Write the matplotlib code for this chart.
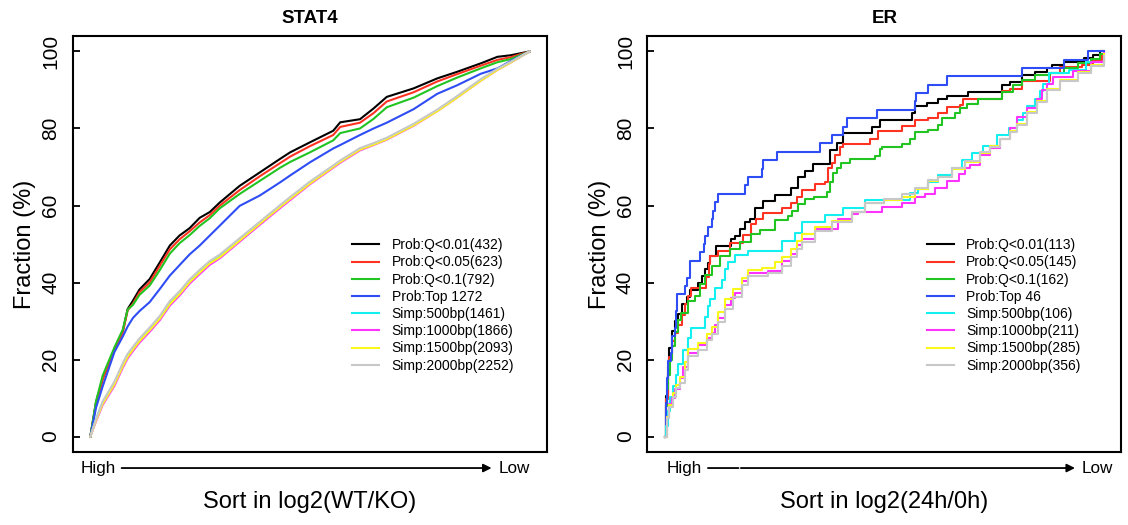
import numpy as np
import matplotlib
matplotlib.use("Agg")
import matplotlib.pyplot as plt

plt.rcParams['font.family'] = ['Liberation Sans', 'DejaVu Sans']

# ---- STAT4: cumulative fraction (%) along sorted rank (0 = high, 1 = low)
stat4_rank = [0, .013, .028, .055, .074, .085, .097, .112, .135, .158, .181, .203, .226, .249,
              .272, .295, .340, .386, .432, .455, .500, .553, .569, .614, .645, .675, .736, .790,
              .835, .889, .927, .957, 1.0]
stat4_q001 = [0, 8.9, 15.0, 22.8, 27.5, 33.1, 35.3, 38.2, 40.9, 45.2, 49.6, 52.2, 54.1, 56.8,
              58.3, 60.8, 65.1, 68.6, 72.1, 73.8, 76.4, 79.4, 81.6, 82.4, 85.2, 88.2, 90.4, 93.0,
              94.7, 96.9, 98.6, 99.0, 100]
stat4_q005 = [0, 8.5, 14.8, 22.5, 27.0, 32.8, 34.5, 37.5, 40.0, 44.3, 48.6, 51.2, 53.3, 55.6,
              57.5, 60.0, 64.0, 67.6, 71.0, 72.7, 75.4, 78.3, 80.4, 81.5, 84.0, 87.0, 89.4, 92.2,
              94.1, 96.3, 97.8, 98.5, 100]
stat4_q01 = [0, 9.2, 15.8, 23.2, 27.8, 33.0, 34.2, 36.8, 39.2, 43.2, 47.5, 50.2, 52.3, 54.7,
             56.7, 59.3, 63.0, 66.4, 69.8, 71.3, 73.8, 76.9, 78.8, 80.0, 82.5, 85.5, 88.0, 91.0,
             93.2, 95.6, 97.2, 98.0, 100]
stat4_top = [0, 7.5, 13.0, 22.0, 26.0, 28.6, 30.8, 32.6, 34.9, 38.3, 41.8, 44.5, 47.3, 49.6,
             52.2, 54.8, 59.9, 62.6, 66.0, 67.8, 71.2, 74.8, 75.7, 78.3, 80.0, 81.5, 85.0, 89.0,
             91.2, 94.2, 95.6, 97.5, 100]
stat4_s500 = [0, 4.5, 8.9, 14.0, 18.8, 21.2, 23.0, 25.2, 28.0, 31.0, 34.9, 37.4, 40.5, 43.0,
              45.3, 47.0, 51.3, 55.6, 59.9, 62.0, 66.0, 70.2, 71.5, 74.7, 76.0, 77.4, 81.0, 84.7,
              88.2, 92.6, 95.4, 97.2, 100]
stat4_s1000 = [0, 4.0, 8.2, 13.2, 17.9, 20.3, 22.2, 24.4, 27.2, 30.2, 34.0, 36.6, 39.7, 42.2,
               44.6, 46.3, 50.6, 55.0, 59.3, 61.4, 65.5, 69.8, 71.1, 74.3, 75.7, 77.1, 80.7, 84.5,
               88.0, 92.4, 95.2, 97.1, 100]
stat4_s1500 = [0, 4.2, 8.5, 13.6, 18.3, 20.7, 22.6, 24.8, 27.6, 30.6, 34.4, 37.0, 40.1, 42.6,
               45.0, 46.6, 50.9, 55.3, 59.6, 61.7, 65.7, 70.0, 71.3, 74.5, 75.8, 77.2, 80.8, 84.5,
               88.0, 92.4, 95.2, 97.1, 100]
stat4_s2000 = [0, 4.6, 9.1, 14.3, 19.1, 21.5, 23.3, 25.5, 28.3, 31.3, 35.2, 37.7, 40.8, 43.3,
               45.6, 47.3, 51.5, 55.8, 60.1, 62.2, 66.2, 70.4, 71.7, 74.9, 76.2, 77.6, 81.2, 84.9,
               88.4, 92.8, 95.5, 97.3, 100]
stat4_labels = ["Prob:Q<0.01(432)", "Prob:Q<0.05(623)", "Prob:Q<0.1(792)", "Prob:Top 1272",
                "Simp:500bp(1461)", "Simp:1000bp(1866)", "Simp:1500bp(2093)", "Simp:2000bp(2252)"]

# ---- ER: step curves (rank position of each step, fraction % after step)
er_q001_x = [0, .003, .006, .010, .015, .022, .030, .038, .049, .056, .075, .085, .091, .097, .102,
             .117, .150, .159, .170, .182, .193, .205, .224, .250, .288, .303, .320, .338, .376,
             .391, .406, .471, .490, .562, .570, .596, .623, .642, .691, .768, .786, .813, .843,
             .870, .882, .908, .955, .975, .990, 1.0]
er_q001_y = [0, 10.6, 17.7, 23.0, 27.4, 30.1, 31.9, 34.5, 36.3, 38.1, 39.8, 41.6, 43.4, 45.1, 46.9,
             49.6, 51.3, 52.2, 54.0, 55.8, 56.6, 59.3, 61.1, 62.8, 64.6, 67.3, 69.0, 70.8, 74.3,
             76.1, 78.8, 80.5, 82.3, 84.1, 85.8, 86.7, 87.6, 88.5, 89.4, 91.2, 92.0, 93.8, 94.7,
             95.6, 96.5, 97.3, 98.2, 99.1, 100, 100]
er_q005_x = [0, .003, .006, .010, .015, .022, .030, .038, .045, .052, .060, .094, .100, .102, .121,
             .148, .178, .197, .208, .224, .266, .288, .300, .311, .342, .364, .372, .380, .387,
             .399, .406, .467, .486, .540, .570, .600, .623, .642, .673, .680, .768, .786, .813,
             .878, .900, .950, .975, .995, 1.0]
er_q005_y = [0, 9.7, 15.9, 20.7, 24.8, 26.9, 29.0, 31.7, 34.5, 36.6, 38.6, 41.4, 44.8, 46.9, 48.3,
             50.3, 52.4, 55.2, 56.6, 58.0, 59.3, 60.7, 62.1, 64.1, 65.5, 66.2, 69.7, 71.0, 73.1,
             75.2, 75.9, 77.2, 79.3, 80.7, 82.1, 82.8, 84.1, 85.5, 86.2, 87.6, 89.7, 90.3, 92.4,
             94.5, 95.9, 96.6, 97.9, 99.3, 99.3]
er_q01_x = [0, .003, .005, .007, .011, .015, .022, .030, .037, .052, .068, .079, .090, .106, .125,
            .148, .170, .195, .216, .250, .281, .290, .303, .320, .340, .368, .376, .383, .391,
            .402, .421, .478, .490, .494, .540, .558, .570, .600, .623, .630, .661, .672, .688,
            .714, .768, .794, .813, .843, .878, .908, .940, .970, .990, 1.0]
er_q01_y = [0, 8.0, 12.3, 16.0, 19.8, 23.5, 27.2, 30.2, 32.1, 35.2, 36.4, 39.5, 42.0, 44.4, 46.9,
            48.8, 50.6, 52.5, 53.7, 56.2, 57.4, 58.6, 60.5, 61.7, 62.3, 63.6, 66.0, 68.5, 69.8,
            71.0, 72.2, 72.8, 74.7, 75.3, 75.9, 77.2, 79.0, 79.6, 80.9, 82.7, 84.0, 85.2, 86.4,
            87.7, 89.5, 91.4, 92.6, 93.8, 94.4, 95.7, 96.9, 98.1, 99.4, 99.4]
er_top_x = [0, .003, .005, .007, .013, .016, .022, .024, .028, .045, .051, .056, .079, .088, .091,
            .098, .106, .110, .113, .121, .182, .189, .220, .224, .254, .353, .380, .406, .414,
            .482, .570, .572, .599, .642, .813, .908, .963, 1.0]
er_top_y = [0, 8.7, 15.2, 19.6, 21.7, 26.1, 28.3, 32.6, 36.9, 39.1, 41.3, 45.7, 47.8, 50.0, 52.2,
            54.3, 56.5, 58.7, 60.9, 63.0, 65.2, 67.4, 69.6, 71.7, 73.9, 76.1, 78.3, 80.4, 82.6,
            84.8, 87.0, 89.1, 91.3, 93.5, 95.7, 97.8, 100, 100]
er_s500_x = [0, .003, .007, .012, .018, .025, .030, .041, .052, .060, .091, .097, .102, .115, .129,
             .137, .144, .159, .189, .266, .296, .311, .364, .406, .456, .558, .577, .600, .623,
             .653, .676, .700, .725, .756, .783, .802, .815, .824, .843, .855, .862, .874, .920,
             .960, 1.0]
er_s500_y = [0, 2.8, 6.6, 10.4, 13.2, 16.0, 18.9, 22.6, 25.5, 28.3, 31.1, 34.0, 35.8, 38.7, 40.6,
             43.4, 45.3, 47.2, 48.1, 50.9, 52.8, 55.7, 57.5, 59.4, 61.3, 63.2, 64.2, 66.0, 67.9,
             69.8, 71.7, 73.6, 75.5, 78.3, 80.2, 82.1, 84.0, 85.8, 87.7, 89.6, 91.5, 94.3, 95.3,
             97.2, 98.1]
er_s1000_x = [0, .004, .010, .015, .022, .034, .040, .052, .075, .095, .106, .115, .121, .136, .150,
              .159, .175, .189, .235, .266, .288, .300, .311, .342, .395, .425, .440, .494, .540,
              .570, .592, .615, .642, .669, .684, .695, .718, .741, .764, .786, .802, .824, .847,
              .860, .870, .885, .930, .970, 1.0]
er_s1000_y = [0, 5.2, 8.5, 10.0, 12.3, 15.2, 18.0, 21.8, 23.7, 25.6, 27.0, 29.0, 30.8, 34.1, 36.0,
              37.4, 40.3, 42.6, 43.1, 45.5, 47.4, 49.8, 51.2, 54.0, 56.4, 57.8, 58.3, 59.7, 60.7,
              62.1, 63.0, 64.5, 66.4, 68.2, 69.7, 70.6, 73.0, 74.9, 77.3, 80.1, 82.9, 85.3, 87.7,
              90.0, 91.5, 93.4, 94.8, 97.2, 99.5]
er_s1500_x = [0, .004, .010, .018, .025, .034, .045, .052, .075, .095, .106, .121, .136, .155, .175,
              .189, .220, .250, .266, .288, .300, .311, .342, .380, .425, .456, .500, .540, .570,
              .600, .623, .653, .684, .718, .741, .764, .786, .802, .824, .847, .870, .900, .940,
              .970, 1.0]
er_s1500_y = [0, 5.0, 8.1, 11.2, 13.3, 15.4, 19.3, 22.8, 24.2, 26.7, 28.4, 32.3, 35.8, 38.2, 41.1,
              43.2, 43.9, 45.3, 46.7, 48.8, 50.9, 52.6, 54.4, 56.1, 58.2, 60.7, 61.4, 62.1, 64.2,
              66.3, 67.4, 69.5, 71.2, 73.7, 75.4, 77.2, 79.3, 81.1, 84.2, 87.0, 90.2, 92.6, 94.7,
              96.5, 99.3]
er_s2000_x = [0, .004, .010, .018, .025, .034, .045, .052, .075, .095, .106, .121, .136, .155, .175,
              .189, .235, .266, .288, .300, .311, .342, .380, .425, .456, .500, .540, .570, .600,
              .623, .653, .684, .718, .741, .764, .786, .802, .824, .847, .870, .900, .940, .970,
              1.0]
er_s2000_y = [0, 4.8, 7.6, 10.4, 12.6, 14.0, 17.4, 20.8, 22.5, 25.0, 26.7, 29.8, 33.1, 36.2, 39.3,
              41.6, 42.4, 44.4, 46.6, 48.6, 50.6, 53.4, 55.6, 58.4, 60.7, 61.8, 62.9, 64.6, 66.6,
              67.4, 69.7, 71.6, 73.9, 75.3, 77.2, 79.2, 80.9, 84.0, 86.8, 90.0, 92.4, 94.4, 96.3,
              98.9]
er_labels = ["Prob:Q<0.01(113)", "Prob:Q<0.05(145)", "Prob:Q<0.1(162)", "Prob:Top 46",
             "Simp:500bp(106)", "Simp:1000bp(211)", "Simp:1500bp(285)", "Simp:2000bp(356)"]

colors = ['#000000', '#FF3322', '#22C422', '#2E4DF5', '#14F0F0', '#FF33FF', '#F8F81A', '#C8C8C8']

fig = plt.figure(figsize=(11.28, 5.25), dpi=100)
ax1 = fig.add_axes([0.0645, 0.139, 0.4205, 0.7924])
ax2 = fig.add_axes([0.5740, 0.139, 0.4202, 0.7924])

stat4_series = [stat4_q001, stat4_q005, stat4_q01, stat4_top,
                stat4_s500, stat4_s1000, stat4_s1500, stat4_s2000]
for ys, c, lab in zip(stat4_series, colors, stat4_labels):
    ax1.plot(stat4_rank, ys, color=c, lw=1.5, label=lab)

er_series = [(er_q001_x, er_q001_y), (er_q005_x, er_q005_y), (er_q01_x, er_q01_y),
             (er_top_x, er_top_y), (er_s500_x, er_s500_y), (er_s1000_x, er_s1000_y),
             (er_s1500_x, er_s1500_y), (er_s2000_x, er_s2000_y)]
for (xs, ys), c, lab in zip(er_series, colors, er_labels):
    ax2.plot(xs, ys, color=c, lw=1.5, drawstyle='steps-post', label=lab)


def style(ax, title, xlabel, arrow_parts, high_x, low_x):
    ax.set_xlim(-0.04, 1.04)
    ax.set_ylim(-4, 104)
    ax.set_xticks([])
    ax.set_yticks([0, 20, 40, 60, 80, 100])
    ax.set_yticklabels(['0', '20', '40', '60', '80', '100'], rotation=90, va='center')
    ax.tick_params(axis='y', direction='in', labelsize=15, length=4.8, width=1.3, pad=9)
    for sp in ax.spines.values():
        sp.set_linewidth(1.5)
    ax.text(0.5, 1.041, title, transform=ax.transAxes, ha='center', va='center',
            fontsize=13.5, fontweight='bold')
    ax.text(-0.10, 0.5, 'Fraction (%)', transform=ax.transAxes, rotation=90,
            ha='center', va='center', fontsize=17)
    ax.text(0.5, -0.120, xlabel, transform=ax.transAxes, ha='center', va='center', fontsize=17)
    ax.text(high_x, -0.0385, 'High', transform=ax.transAxes, ha='center', va='center',
            fontsize=12.3)
    ax.text(low_x, -0.0385, 'Low', transform=ax.transAxes, ha='center', va='center',
            fontsize=12.3)
    for i, (x0, x1) in enumerate(arrow_parts):
        last = i == len(arrow_parts) - 1
        ax.annotate('', xy=(x1, -0.0385), xytext=(x0, -0.0385), xycoords='axes fraction',
                    annotation_clip=False,
                    arrowprops=dict(arrowstyle='-|>' if last else '-', color='black', lw=1.3,
                                    mutation_scale=12, shrinkA=0, shrinkB=0))
    leg = ax.legend(loc='upper left', bbox_to_anchor=(0.589, 0.514), frameon=False,
                    fontsize=10, handlelength=1.95, handletextpad=0.9, labelspacing=0.23,
                    borderpad=0, borderaxespad=0)
    for ln in leg.get_lines():
        ln.set_linewidth(1.5)


style(ax1, 'STAT4', 'Sort in log2(WT/KO)', [(0.103, 0.883)], 0.054, 0.930)
style(ax2, 'ER', 'Sort in log2(24h/0h)', [(0.1276, 0.192), (0.197, 0.902)], 0.078, 0.950)

fig.savefig('out.png', dpi=100)
